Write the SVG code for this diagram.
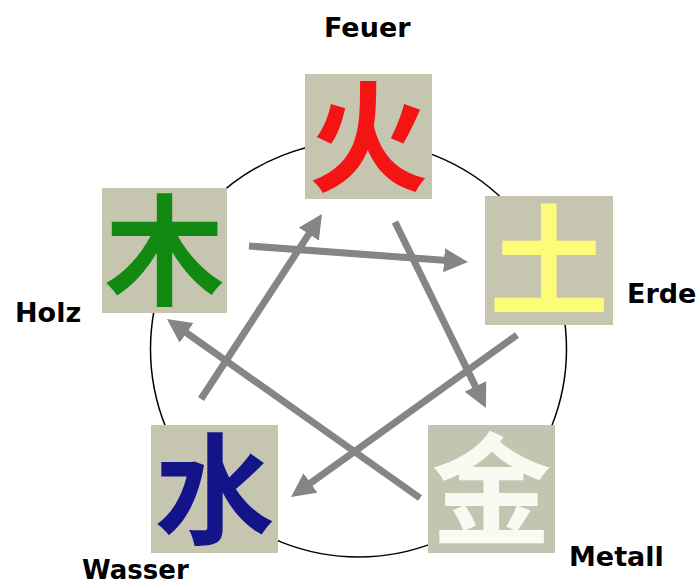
<svg xmlns="http://www.w3.org/2000/svg" width="700" height="586" viewBox="0 0 700 586">
<style>
.box{fill:#c6c5b0}
.han{font-family:"Noto Sans CJK SC","Noto Sans CJK JP",sans-serif;font-weight:700;font-size:120px;text-anchor:middle}
.lbl{font-family:"DejaVu Sans",sans-serif;font-weight:700;font-size:27px;fill:#000}
.arr{stroke:#858585;stroke-width:7;fill:none;marker-end:url(#ah)}
</style>
<defs>
<marker id="ah" markerUnits="userSpaceOnUse" viewBox="0 0 24 24" refX="10" refY="12" markerWidth="24" markerHeight="24" orient="auto">
<path d="M0,0 L24,12 L0,24 z" fill="#858585"/>
</marker>
</defs>
<rect width="700" height="586" fill="#fff"/>
<circle cx="358.5" cy="349" r="208" fill="none" stroke="#000" stroke-width="1.5"/>
<g id="feuer">
<rect class="box" x="305" y="74" width="127" height="125"/>
<text class="han" x="368.5" y="182" fill="#f41414">火</text>
<text class="lbl" x="324" y="37">Feuer</text>
</g>
<g id="holz">
<rect class="box" x="102" y="188" width="125" height="125"/>
<text class="han" x="164.5" y="296" fill="#128a12">木</text>
<text class="lbl" x="15" y="322">Holz</text>
</g>
<g id="erde">
<rect class="box" x="485" y="196" width="128" height="129"/>
<text class="han" x="549" y="306" fill="#fcfc78">土</text>
<text class="lbl" x="627" y="303">Erde</text>
</g>
<g id="wasser">
<rect class="box" x="151" y="425" width="127" height="128"/>
<text class="han" x="214.5" y="534.5" fill="#14148a">水</text>
<text class="lbl" x="82" y="579" style="font-size:26px">Wasser</text>
</g>
<g id="metall">
<rect class="box" x="428" y="425" width="127" height="128" style="fill:#c2c5af"/>
<text class="han" x="491.5" y="534.5" fill="#fafaf2">金</text>
<text class="lbl" x="569" y="566">Metall</text>
</g>
<g id="connectors">
<line class="arr" x1="249" y1="246" x2="454" y2="261"/>
<line class="arr" x1="395" y1="222" x2="479.8" y2="395.4"/>
<line class="arr" x1="201" y1="399" x2="314.3" y2="225.7"/>
<line class="arr" x1="517" y1="335" x2="302.4" y2="488.8"/>
<line class="arr" x1="420" y1="498" x2="178.4" y2="327.1"/>
</g>
</svg>
